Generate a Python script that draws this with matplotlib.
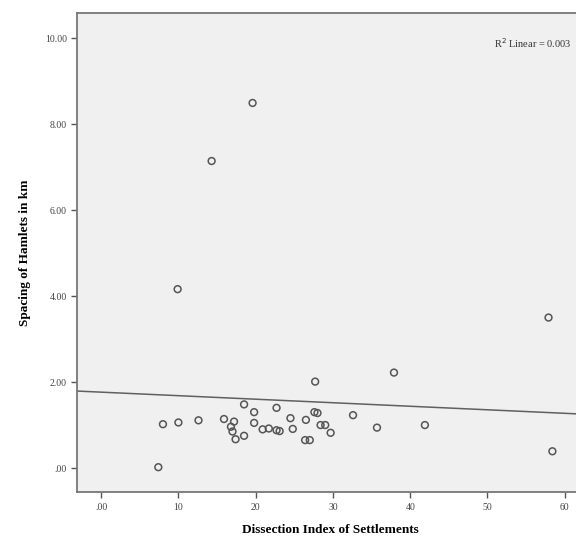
import matplotlib

matplotlib.use("Agg")
import matplotlib.pyplot as plt

# Dissection index (x) vs spacing of hamlets in km (y)
dissection = [19.6, 14.3, 9.9, 57.9, 37.9, 27.7, 58.4, 7.4,
              8.0, 10.0, 12.6, 15.9, 17.2, 16.8, 17.0, 17.4, 18.5, 18.5,
              19.8, 19.8, 20.9, 21.7, 22.7, 23.1, 22.7, 24.5, 24.8, 26.5,
              26.4, 27.0, 27.6, 28.0, 28.4, 29.0, 29.7, 32.6, 35.7, 41.9]
spacing = [8.49, 7.14, 4.16, 3.50, 2.22, 2.01, 0.39, 0.02,
           1.02, 1.06, 1.11, 1.14, 1.08, 0.96, 0.85, 0.67, 0.75, 1.48,
           1.30, 1.05, 0.90, 0.92, 0.88, 0.86, 1.40, 1.16, 0.91, 1.12,
           0.65, 0.65, 1.30, 1.28, 1.00, 1.00, 0.82, 1.23, 0.94, 1.00]

fit_intercept = 1.765
fit_slope = -0.0082
r2_text = "R$^2$ Linear = 0.003"

x_ticks = [0, 10, 20, 30, 40, 50, 60]
x_ticklabels = [".00", "10", "20", "30", "40", "50", "60"]
y_ticks = [0, 2, 4, 6, 8, 10]
y_ticklabels = [".00", "2.00", "4.00", "6.00", "8.00", "10.00"]

plt.rcParams["font.family"] = ["Liberation Serif", "DejaVu Serif"]

fig = plt.figure(figsize=(5.76, 5.45), dpi=100)
ax = fig.add_axes([0.134, 0.097, 0.88, 0.879])
ax.set_facecolor("#f0f0f0")

xlim = (-3.1, 62.5)
ylim = (-0.56, 10.58)

ax.plot(xlim, [fit_intercept + fit_slope * v for v in xlim],
        color="#606060", lw=1.1, zorder=2)
ax.scatter(dissection, spacing, s=24, marker="o", facecolors="none",
           edgecolors="#555555", linewidths=1.1, zorder=3)

ax.text(0.975, 0.937, r2_text, transform=ax.transAxes, ha="right",
        va="center", fontsize=7.5, color="#333333")

ax.set_xlim(*xlim)
ax.set_ylim(*ylim)
ax.set_xticks(x_ticks)
ax.set_xticklabels(x_ticklabels, fontsize=7, color="#444444")
ax.set_yticks(y_ticks)
ax.set_yticklabels(y_ticklabels, fontsize=7, color="#444444")
ax.tick_params(direction="out", length=4, width=1, color="#555555")

ax.set_xlabel("Dissection Index of Settlements", fontsize=9.5,
              fontweight="bold", labelpad=9)
ax.set_ylabel("Spacing of Hamlets in km", fontsize=9.5,
              fontweight="bold", labelpad=10)

for side in ["left", "bottom", "top"]:
    ax.spines[side].set_color("#777777")
    ax.spines[side].set_linewidth(1.3)
ax.spines["right"].set_visible(False)

fig.savefig("out.png", dpi=100, facecolor="white")
